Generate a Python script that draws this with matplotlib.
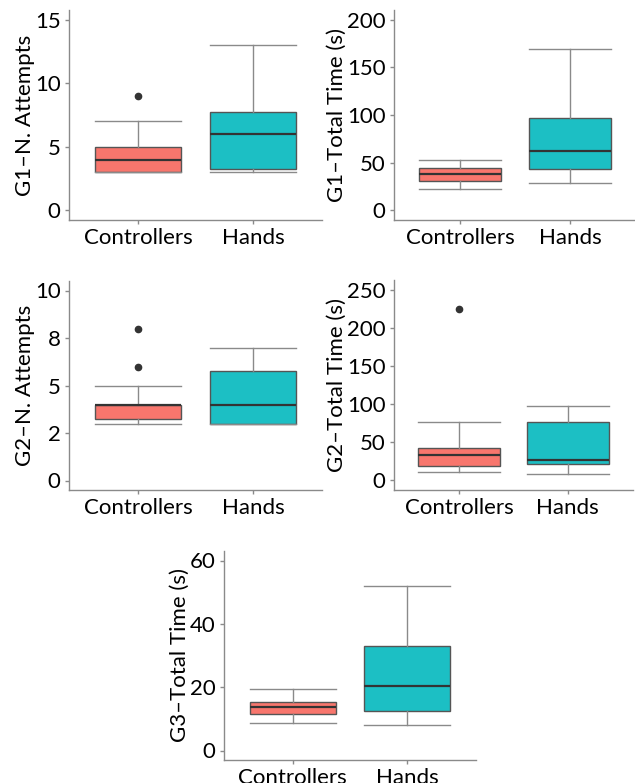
import matplotlib
matplotlib.use('Agg')
import matplotlib.pyplot as plt

plt.rcParams['font.family'] = ['Lato', 'DejaVu Sans']

# groups on the x axis
cats = ['Controllers', 'Hands']

# box stats: [low whisker, Q1, median, Q3, high whisker]
g1_att_ctrl = [3, 3, 4, 5, 7]
g1_att_hand = [3, 3.25, 6, 7.75, 13]
g1_att_out = [[9], []]

g1_time_ctrl = [22, 31, 38, 45, 53]
g1_time_hand = [28.5, 43, 62.5, 97, 169.5]
g1_time_out = [[], []]

g2_att_ctrl = [3, 3.25, 4, 4, 5]
g2_att_hand = [3, 3, 4, 5.75, 7]
g2_att_out = [[6, 8], []]

g2_time_ctrl = [11, 19, 33, 43, 77]
g2_time_hand = [9, 22, 27, 77, 98]
g2_time_out = [[225], []]

g3_time_ctrl = [8.8, 11.5, 13.75, 15.2, 19.5]
g3_time_hand = [8.2, 12.5, 20.3, 32.9, 51.8]
g3_time_out = [[], []]

colors = ['#F8766D', '#1CBFC4']

W, H = 635, 783
fig = plt.figure(figsize=(W / 100, H / 100), dpi=100)


def make_ax(left, right, top, bottom):
    # pixel box -> figure fraction
    return fig.add_axes([left / W, 1 - bottom / H, (right - left) / W, (bottom - top) / H])


def panel(ax, ctrl, hand, outl, ylabel, ymax, yticks, yticklabels):
    stats = []
    for i, s in enumerate([ctrl, hand]):
        stats.append(dict(whislo=s[0], q1=s[1], med=s[2], q3=s[3], whishi=s[4],
                          fliers=outl[i], label=cats[i]))
    bp = ax.bxp(stats, positions=[1, 2], widths=0.75, capwidths=0.75,
                patch_artist=True, showfliers=True,
                boxprops=dict(edgecolor='#555555', linewidth=1.0),
                whiskerprops=dict(color='#8a8a8a', linewidth=1.0),
                capprops=dict(color='#8a8a8a', linewidth=1.0),
                medianprops=dict(color='#333333', linewidth=1.6),
                flierprops=dict(marker='o', markersize=4.5, markerfacecolor='#333333',
                                markeredgecolor='#333333'))
    for patch, c in zip(bp['boxes'], colors):
        patch.set_facecolor(c)
    ax.set_xlim(0.4, 2.6)
    pad = ymax * 0.05
    ax.set_ylim(-pad, ymax + pad)
    ax.set_yticks(yticks)
    ax.set_yticklabels(yticklabels)
    ax.set_ylabel(ylabel, fontsize=16, labelpad=0)
    for side in ['top', 'right']:
        ax.spines[side].set_visible(False)
    for side in ['left', 'bottom']:
        ax.spines[side].set_color('#8a8a8a')
        ax.spines[side].set_linewidth(1.0)
    ax.tick_params(axis='both', colors='#8a8a8a', length=3, width=1.0,
                   labelsize=16, labelcolor='black', pad=3)


ax1 = make_ax(69, 322, 10, 220)
panel(ax1, g1_att_ctrl, g1_att_hand, g1_att_out, 'G1–N. Attempts', 15,
      [0, 5, 10, 15], ['0', '5', '10', '15'])

ax2 = make_ax(394, 636, 10, 220)
panel(ax2, g1_time_ctrl, g1_time_hand, g1_time_out, 'G1–Total Time (s)', 200,
      [0, 50, 100, 150, 200], ['0', '50', '100', '150', '200'])

ax3 = make_ax(69, 322, 281, 490)
panel(ax3, g2_att_ctrl, g2_att_hand, g2_att_out, 'G2–N. Attempts', 10,
      [0, 2.5, 5, 7.5, 10], ['0', '2', '5', '8', '10'])

ax4 = make_ax(394, 633, 280, 490)
panel(ax4, g2_time_ctrl, g2_time_hand, g2_time_out, 'G2–Total Time (s)', 250,
      [0, 50, 100, 150, 200, 250], ['0', '50', '100', '150', '200', '250'])

ax5 = make_ax(224, 476, 551, 760)
panel(ax5, g3_time_ctrl, g3_time_hand, g3_time_out, 'G3–Total Time (s)', 60,
      [0, 20, 40, 60], ['0', '20', '40', '60'])

fig.savefig('out.png', dpi=100)
